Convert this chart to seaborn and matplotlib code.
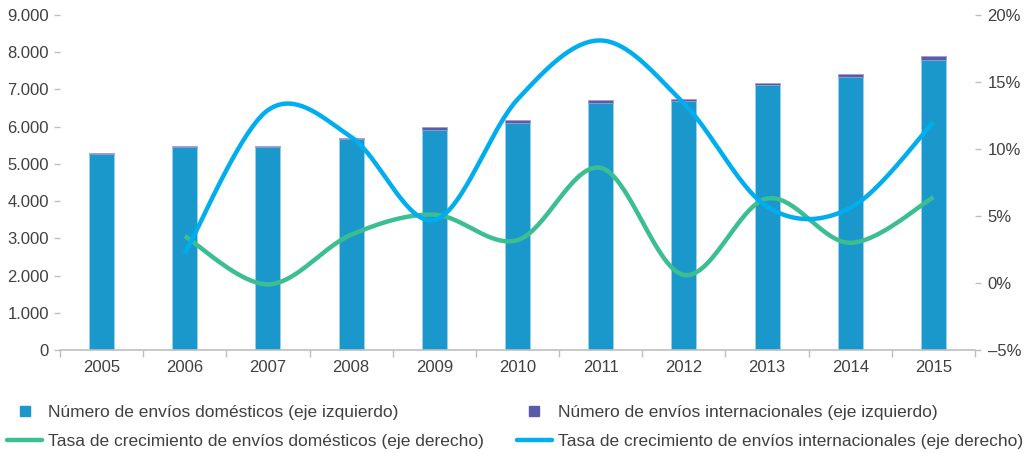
import numpy as np
import pandas as pd
import matplotlib
matplotlib.use("Agg")
import matplotlib.pyplot as plt
import seaborn as sns
from matplotlib.lines import Line2D

# ---- data ----
years = ["2005", "2006", "2007", "2008", "2009", "2010", "2011", "2012", "2013", "2014", "2015"]
envios_domesticos = [5260, 5455, 5455, 5665, 5920, 6100, 6645, 6685, 7115, 7340, 7790]
envios_internacionales = [40, 37, 37, 37, 63, 80, 75, 70, 60, 70, 115]
growth_years = years[1:]
tasa_domesticos = [3.5, -0.1, 3.6, 5.1, 3.2, 8.6, 0.6, 6.3, 3.0, 6.4]
tasa_internacionales = [2.2, 12.9, 10.9, 4.7, 13.7, 18.1, 13.4, 5.7, 5.6, 12.0]
left_ticks = [0, 1000, 2000, 3000, 4000, 5000, 6000, 7000, 8000, 9000]
left_labels = ["0", "1.000", "2.000", "3.000", "4.000", "5.000", "6.000", "7.000", "8.000", "9.000"]
right_ticks = [-5, 0, 5, 10, 15, 20]
right_labels = ["\u20135%", "0%", "5%", "10%", "15%", "20%"]
legend_labels = [
    "Número de envíos domésticos (eje izquierdo)",
    "Tasa de crecimiento de envíos domésticos (eje derecho)",
    "Número de envíos internacionales (eje izquierdo)",
    "Tasa de crecimiento de envíos internacionales (eje derecho)",
]

C_DOM = "#1B98CB"
C_INT = "#5B5BA8"
C_GREEN = "#3BBE90"
C_BLUE = "#00AEEF"
C_TXT = "#404040"
C_AX = "#BFBFBF"

sns.set_theme(style="white")
plt.rcParams["font.family"] = ["Liberation Sans", "DejaVu Sans"]


def smooth(xs, ys, n=40):
    P = np.column_stack([np.asarray(xs, float), np.asarray(ys, float)])
    m = len(P)
    ext = np.vstack([P[0], P, P[-1]])
    out = []
    t = np.linspace(0, 1, n)[:, None]
    for i in range(m - 1):
        p0, p1, p2, p3 = ext[i], ext[i + 1], ext[i + 2], ext[i + 3]
        b0 = p1
        b1 = p1 + (p2 - p0) / 6
        b2 = p2 - (p3 - p1) / 6
        b3 = p2
        seg = ((1 - t) ** 3) * b0 + 3 * ((1 - t) ** 2) * t * b1 + 3 * (1 - t) * t ** 2 * b2 + t ** 3 * b3
        out.append(seg if i == 0 else seg[1:])
    s = np.vstack(out)
    return s[:, 0], s[:, 1]


fig = plt.figure(figsize=(10.28, 4.53), dpi=100)
ax = fig.add_axes([60 / 1028, 1 - 350 / 453, 915 / 1028, 335 / 453])

df = pd.DataFrame({"year": years, "dom": envios_domesticos, "intl": envios_internacionales})
sns.barplot(data=df, x="year", y="dom", color=C_DOM, saturation=1, width=0.3,
            edgecolor="#9fd3ea", linewidth=0.5, ax=ax, zorder=2)
sns.barplot(data=df, x="year", y="intl", bottom=df["dom"].to_numpy(), color=C_INT, saturation=1,
            width=0.3, edgecolor="#9a9ad0", linewidth=0.5, ax=ax, zorder=2)

ax.set_xlim(-0.5, len(years) - 0.5)
ax.set_ylim(0, 9000)
ax.set_yticks(left_ticks)
ax.set_yticklabels(left_labels)
ax.set_xlabel("")
ax.set_ylabel("")
for s in ["left", "right", "top"]:
    ax.spines[s].set_visible(False)
ax.spines["bottom"].set_color(C_AX)
ax.spines["bottom"].set_linewidth(1.2)
ax.set_xticks(np.arange(-0.5, len(years)), minor=True)
ax.tick_params(axis="x", which="major", length=0, pad=7, labelsize=12, labelcolor=C_TXT)
ax.tick_params(axis="x", which="minor", direction="out", length=5, width=1, color=C_AX, bottom=True)
ax.tick_params(axis="y", which="major", direction="out", length=4, width=1, color=C_AX,
               pad=4, labelsize=12, labelcolor=C_TXT, left=True)
ax.grid(False)

ax2 = ax.twinx()
ax2.set_ylim(-5, 20)
ax2.set_yticks(right_ticks)
ax2.set_yticklabels(right_labels)
for s in ["left", "right", "top", "bottom"]:
    ax2.spines[s].set_visible(False)
ax2.tick_params(axis="y", which="major", direction="out", length=4, width=1, color=C_AX,
                pad=5, labelsize=12, labelcolor=C_TXT, right=True)
ax2.grid(False)

gx = [years.index(y) for y in growth_years]
xs, ys = smooth(gx, tasa_domesticos)
sns.lineplot(x=xs, y=ys, sort=False, estimator=None, color=C_GREEN, linewidth=3.2, ax=ax2,
             solid_capstyle="butt")
xs, ys = smooth(gx, tasa_internacionales)
sns.lineplot(x=xs, y=ys, sort=False, estimator=None, color=C_BLUE, linewidth=3.2, ax=ax2,
             solid_capstyle="butt")
ax2.set_xlim(-0.5, len(years) - 0.5)

handles = [
    Line2D([], [], linestyle="none", marker="s", markersize=7, color=C_DOM),
    Line2D([], [], color=C_GREEN, linewidth=3.2),
    Line2D([], [], linestyle="none", marker="s", markersize=7, color=C_INT),
    Line2D([], [], color=C_BLUE, linewidth=3.2),
]
fig.legend(handles, legend_labels, ncol=2, loc="upper left", bbox_to_anchor=(0.002, 1 - 400 / 453),
           frameon=False, fontsize=12.5, labelcolor=C_TXT, handlelength=2.0, handletextpad=0.35,
           columnspacing=1.9, labelspacing=0.78, borderaxespad=0, borderpad=0.3)

fig.savefig("out.png", dpi=100)
